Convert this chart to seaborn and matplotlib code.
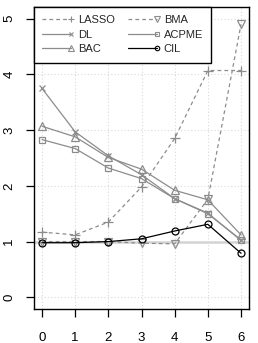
import matplotlib
matplotlib.use("Agg")
import matplotlib.pyplot as plt
import seaborn as sns
from matplotlib.lines import Line2D
from matplotlib.legend_handler import HandlerLine2DCompound

x = [0, 1, 2, 3, 4, 5, 6]
lasso = [1.17, 1.12, 1.35, 1.98, 2.85, 4.07, 4.07]
bma = [1.00, 1.00, 1.00, 0.97, 0.96, 1.76, 4.90]
dl = [3.75, 2.97, 2.54, 2.20, 1.77, 1.51, 1.02]
bac = [3.07, 2.88, 2.51, 2.30, 1.92, 1.75, 1.12]
acpme = [2.83, 2.67, 2.32, 2.13, 1.77, 1.50, 1.03]
cil = [0.98, 0.98, 1.00, 1.05, 1.19, 1.31, 0.79]

series = ["LASSO", "DL", "BAC", "BMA", "ACPME", "CIL"]
values = {"LASSO": lasso, "DL": dl, "BAC": bac, "BMA": bma, "ACPME": acpme, "CIL": cil}
grey = "#8c8c8c"
dash = (0, (3, 2.5))
styles = {
    "LASSO": dict(color=grey, linestyle=dash, marker="+", ms=7.5),
    "DL": dict(color=grey, linestyle="-", marker="x", ms=5),
    "BAC": dict(color=grey, linestyle="-", marker="^", ms=6),
    "BMA": dict(color=grey, linestyle=dash, marker="v", ms=6),
    "ACPME": dict(color=grey, linestyle="-", marker="s", ms=5),
    "CIL": dict(color="black", linestyle="-", marker="o", ms=5),
}

sns.set_style("ticks")
plt.rcParams["font.family"] = ["Liberation Sans", "DejaVu Sans"]

fig = plt.figure(figsize=(2.58, 3.43), dpi=100)
ax = fig.add_axes([34 / 258, 34 / 343, 215 / 258, 302 / 343])

# grid
for xv in x:
    ax.axvline(xv, color="#d9d9d9", linestyle=(0, (1, 2)), lw=0.8, zorder=0)
for yv in range(6):
    ax.axhline(yv, color="#d9d9d9", linestyle=(0, (1, 2)), lw=0.8, zorder=0)
ax.axhline(1, color="#d3d3d3", lw=1.8, zorder=0.5)

for name in series:
    st = styles[name]
    sns.lineplot(x=x, y=values[name], ax=ax, color=st["color"],
                 linestyle=st["linestyle"], marker=st["marker"],
                 markersize=st["ms"], markerfacecolor="none",
                 markeredgecolor=st["color"], markeredgewidth=0.9,
                 lw=0.9, zorder=3)

ax.set_xlim(-0.24, 6.24)
ax.set_ylim(-0.21, 5.21)
ax.set_xticks(x)
ax.set_yticks(range(6))
ax.tick_params(axis="x", direction="out", length=5.5, width=0.9, labelsize=9.5,
               color="black", labelcolor="black", pad=11)
ax.tick_params(axis="y", direction="out", length=5.5, width=0.9, labelsize=9.5,
               color="black", labelcolor="black", pad=8)
for lab in ax.get_yticklabels():
    lab.set_rotation(90)
    lab.set_va("center")
for sp in ax.spines.values():
    sp.set_color("black")
    sp.set_linewidth(1.0)
ax.set_xlabel("")
ax.set_ylabel("")
if ax.get_legend() is not None:
    ax.get_legend().remove()


class EndMarker(HandlerLine2DCompound):
    def get_xdata(self, legend, xdescent, ydescent, width, height, fontsize):
        xdata, xm = super().get_xdata(legend, xdescent, ydescent, width, height, fontsize)
        return xdata, [-xdescent + width]


leg_order = ["LASSO", "DL", "BAC", "BMA", "ACPME", "CIL"]
handles = []
for name in leg_order:
    st = styles[name]
    h = Line2D([], [], color=st["color"], linestyle=st["linestyle"], lw=0.9,
               marker=st["marker"], markersize=st["ms"] * 0.65,
               markerfacecolor="none", markeredgecolor=st["color"],
               markeredgewidth=0.8)
    handles.append(h)

leg = ax.legend(handles, leg_order,
                loc="upper left", ncol=2, fontsize=8, frameon=True,
                fancybox=False, edgecolor="black", framealpha=1,
                borderaxespad=0, handlelength=2.6, handletextpad=0.6,
                columnspacing=1.2, labelspacing=0.4, borderpad=0.75,
                numpoints=1, handler_map={Line2D: EndMarker()})
leg.get_frame().set_linewidth(1.0)

fig.savefig("out.png", dpi=100)
